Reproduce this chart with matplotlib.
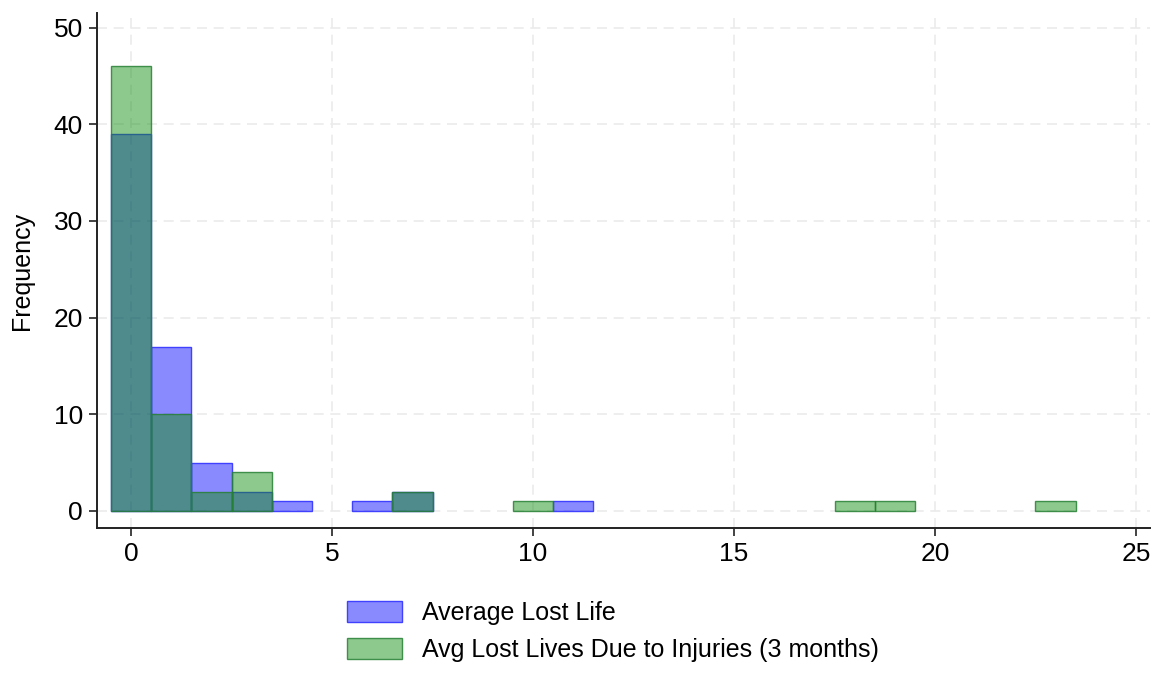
import matplotlib.pyplot as plt
import numpy as np

plt.rcParams['font.family'] = ['Liberation Sans', 'DejaVu Sans']

# histogram bins (width 1, centered on integers)
life_bins = [0, 1, 2, 3, 4, 6, 7, 11]
life_counts = [39, 17, 5, 2, 1, 1, 2, 1]

inj_bins = [0, 1, 2, 3, 7, 10, 18, 19, 23]
inj_counts = [46, 10, 2, 4, 2, 1, 1, 1, 1]

labels = ["Average Lost Life", "Avg Lost Lives Due to Injuries (3 months)"]
xticks = [0, 5, 10, 15, 20, 25]
yticks = [0, 10, 20, 30, 40, 50]

fig = plt.figure(figsize=(11.64, 6.74), dpi=100)
ax = fig.add_axes([0.0833, 0.2166, 0.9047, 0.7641])

ax.bar(life_bins, life_counts, width=1, color=(0, 0, 1, 0.46),
       edgecolor=(0.25, 0.25, 1.0), linewidth=1.0, label=labels[0], zorder=2)
ax.bar(inj_bins, inj_counts, width=1, color=(0.05, 0.55, 0.05, 0.47),
       edgecolor=(0.15, 0.5, 0.2, 0.85), linewidth=1.0, label=labels[1], zorder=3)

ax.set_xlim(-0.85, 25.35)
ax.set_ylim(-1.76, 51.5)
ax.set_xticks(xticks)
ax.set_yticks(yticks)
ax.tick_params(labelsize=19, length=6, width=1.2, color='#222222', pad=4)
ax.set_ylabel("Frequency", fontsize=18, labelpad=14)

ax.grid(True, linestyle=(0, (6, 4)), color='#ebebeb', linewidth=1.2, zorder=0)
ax.set_axisbelow(True)

for s in ['top', 'right']:
    ax.spines[s].set_visible(False)
for s in ['left', 'bottom']:
    ax.spines[s].set_linewidth(1.4)
    ax.spines[s].set_color('#222222')

ax.legend(loc='upper center', bbox_to_anchor=(0.49, -0.099), frameon=False,
          fontsize=18, handlelength=2.2, handleheight=0.9, labelspacing=0.5,
          handletextpad=0.8)

fig.savefig("out.png", dpi=100)
